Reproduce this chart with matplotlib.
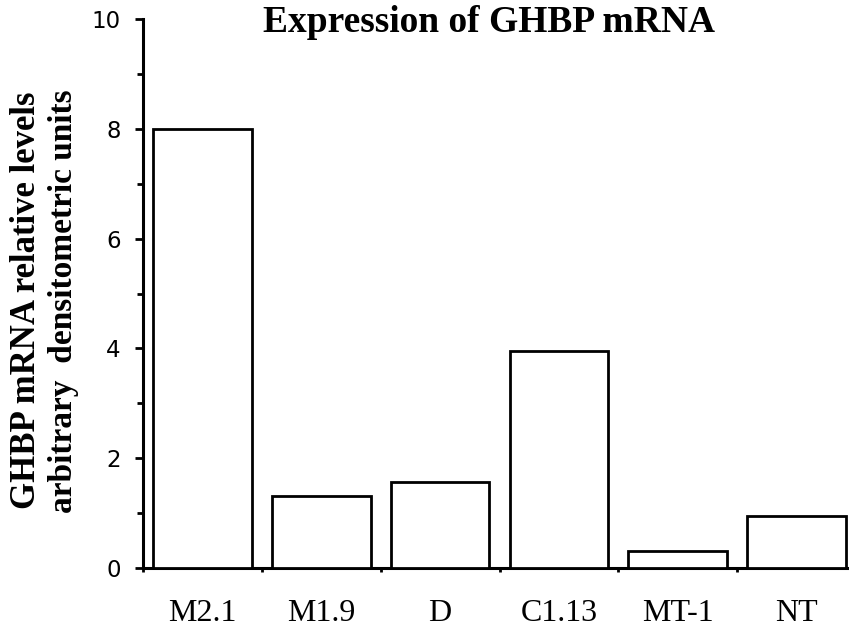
import matplotlib
matplotlib.use("Agg")
import matplotlib.pyplot as plt
import numpy as np

categories = ["M2.1", "M1.9", "D", "C1.13", "MT-1", "NT"]
values = [8.0, 1.31, 1.57, 3.95, 0.31, 0.95]
yticks = [0, 2, 4, 6, 8, 10]

fig = plt.figure(figsize=(8.49, 6.29), dpi=100)
ax = fig.add_axes([143/849, 61/629, 713/849, 549/629])

x = np.arange(len(categories))
ax.bar(x, values, width=0.83, color="white", edgecolor="black", linewidth=2.0, zorder=3)

ax.set_xlim(-0.5, len(categories) - 0.5)
ax.set_ylim(0, 10)

for s in ["top", "right"]:
    ax.spines[s].set_visible(False)
for s in ["left", "bottom"]:
    ax.spines[s].set_linewidth(2.2)

ax.set_yticks(yticks)
ax.set_yticklabels([str(v) for v in yticks], fontfamily="DejaVu Sans", fontsize=16.5)
ax.set_yticks(np.arange(1, 10, 2), minor=True)
ax.tick_params(axis="y", which="major", direction="out", length=6, width=2, pad=10)
ax.tick_params(axis="y", which="minor", direction="out", length=4, width=2)

ax.set_xticks(x)
ax.set_xticklabels(categories, fontfamily="Liberation Serif", fontsize=23)
ax.set_xticks(np.arange(len(categories)) - 0.5, minor=True)
ax.tick_params(axis="x", which="major", length=0, pad=22)
ax.tick_params(axis="x", which="minor", direction="out", length=3, width=2)

fig.text(489/849, 1 - 22/629, "Expression of GHBP mRNA", ha="center", va="center",
         fontfamily="Liberation Serif", fontweight="bold", fontsize=27)
fig.text(27/849, 1 - 300/629, "GHBP mRNA relative levels", rotation=90, ha="center", va="center",
         fontfamily="Liberation Serif", fontweight="bold", fontsize=25)
fig.text(64/849, 1 - 301/629, "arbitrary  densitometric units", rotation=90, ha="center", va="center",
         fontfamily="Liberation Serif", fontweight="bold", fontsize=24)

fig.savefig("out.png", dpi=100)
